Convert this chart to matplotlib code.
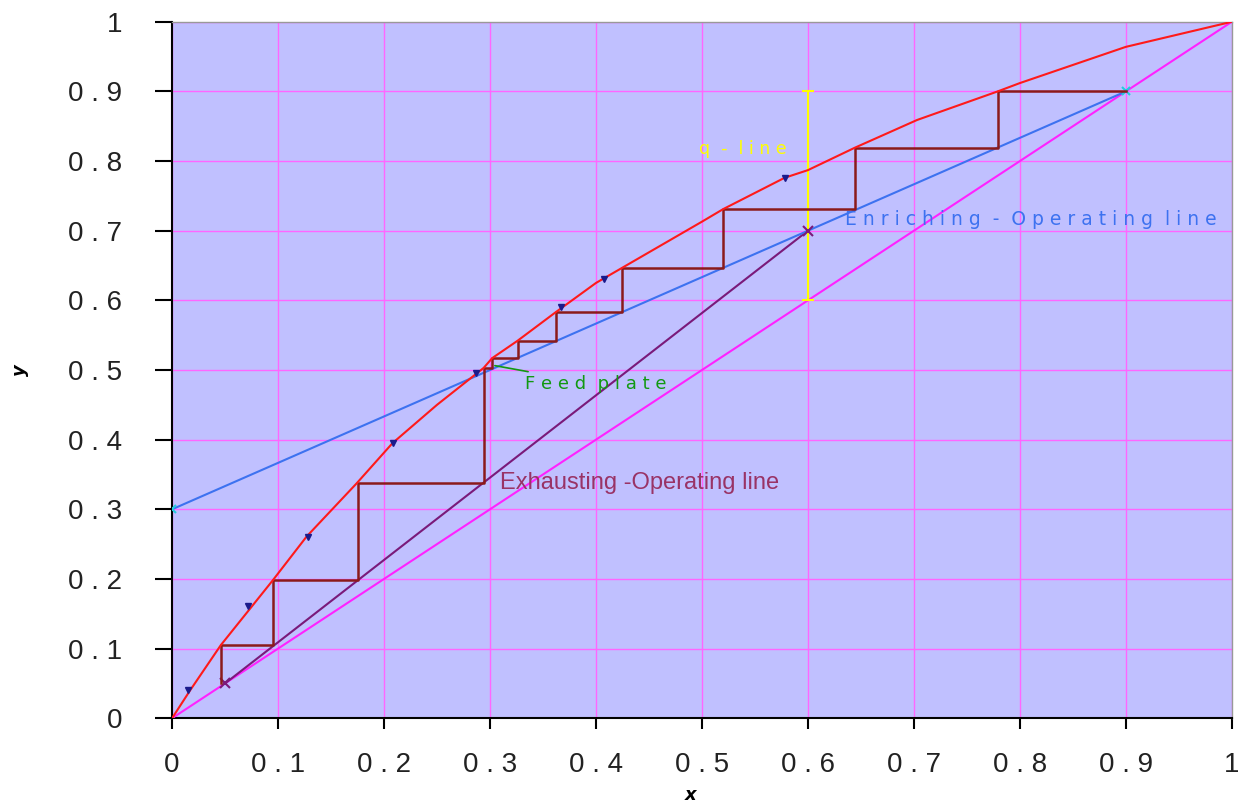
# McCabe-Thiele diagram: equilibrium curve, operating lines and stage steps
from matplotlib import pyplot as plt
import numpy as np

# equilibrium curve
eq_x = [0.0, 0.017, 0.046, 0.095, 0.127, 0.174, 0.208, 0.250, 0.294, 0.302, 0.326,
        0.362, 0.400, 0.425, 0.500, 0.520, 0.578, 0.600, 0.644, 0.703, 0.779, 0.800,
        0.900, 1.0]
eq_y = [0.0, 0.040, 0.105, 0.198, 0.261, 0.337, 0.395, 0.450, 0.503, 0.517, 0.542,
        0.583, 0.625, 0.647, 0.713, 0.731, 0.776, 0.787, 0.819, 0.859, 0.900, 0.912,
        0.964, 1.0]

# measured data points
data_x = [0.015, 0.072, 0.128, 0.208, 0.287, 0.367, 0.408, 0.578]
data_y = [0.040, 0.161, 0.260, 0.395, 0.496, 0.590, 0.630, 0.776]

# operating lines, q-line and diagonal
enrich_x = [0.0, 0.9]
enrich_y = [0.3, 0.9]
exhaust_x = [0.05, 0.6]
exhaust_y = [0.05, 0.7]
q_x = [0.6, 0.6]
q_y = [0.6, 0.9]
diag_x = [0.0, 1.0]
diag_y = [0.0, 1.0]

# stage corners on the equilibrium curve
stage_x = [0.779, 0.644, 0.520, 0.425, 0.362, 0.326, 0.302, 0.294, 0.175, 0.095, 0.046]
stage_y = [0.900, 0.819, 0.731, 0.647, 0.583, 0.542, 0.517, 0.503, 0.338, 0.198, 0.105]
bottom_y = 0.05

ticks = [0, 0.1, 0.2, 0.3, 0.4, 0.5, 0.6, 0.7, 0.8, 0.9, 1]
tick_labels = ['0', '0 . 1', '0 . 2', '0 . 3', '0 . 4', '0 . 5', '0 . 6', '0 . 7', '0 . 8', '0 . 9', '1']

fig = plt.figure(figsize=(12.38, 8.07), dpi=100)
ax = fig.add_axes([0.139, 0.110, 0.856, 0.863])
ax.set_facecolor('#c0c0ff')

# staircase path
sx = [0.9]
sy = [0.9]
for i in range(len(stage_x)):
    sx.append(stage_x[i])
    sy.append(stage_y[i])
    nxt = stage_y[i + 1] if i + 1 < len(stage_y) else bottom_y
    sx.append(stage_x[i])
    sy.append(nxt)

ax.plot(diag_x, diag_y, color='#ff22ff', lw=1.5, zorder=3)
ax.plot(exhaust_x, exhaust_y, color='#7a1a7a', lw=1.5, zorder=3)
ax.plot(exhaust_x, exhaust_y, 'x', color='#7a1a7a', ms=7, mew=1.5, zorder=4)
ax.plot(enrich_x, enrich_y, color='#3d72f0', lw=1.5, zorder=3)
ax.plot(enrich_x, enrich_y, 'x', color='#22ccdd', ms=6, mew=1.5, zorder=4)
ax.plot(q_x, q_y, color='#ffff00', lw=1.5, zorder=3)
ax.plot(q_x, q_y, '_', color='#ffff00', ms=8, mew=1.5, zorder=4)
ax.plot(sx, sy, color='#8b1a1a', lw=1.8, zorder=4)
ax.plot(eq_x, eq_y, color='#ff1a1a', lw=1.5, zorder=5)
ax.plot(data_x, data_y, 'v', color='#1a1a8c', ms=4, zorder=6)

ax.set_xlim(0, 1)
ax.set_ylim(0, 1)
ax.set_xticks(ticks)
ax.set_yticks(ticks)
ax.set_xticklabels(tick_labels, fontsize=20, family='Liberation Sans', color='#222222')
ax.set_yticklabels(tick_labels, fontsize=20, family='Liberation Sans', color='#222222')
ax.tick_params(axis='y', length=12, width=1.5, pad=24)
ax.tick_params(axis='x', length=8, width=1.5, pad=16)
ax.grid(True, color='#ff66ff', lw=1)
ax.set_axisbelow(True)
for s in ['top', 'right']:
    ax.spines[s].set_color('#999999')
    ax.spines[s].set_linewidth(1)
for s in ['left', 'bottom']:
    ax.spines[s].set_linewidth(1.5)

ax.set_xlabel('x', fontsize=13, fontweight='bold', fontstyle='italic')
ax.set_ylabel('y', fontsize=13, fontweight='bold', fontstyle='italic')
ax.xaxis.set_label_coords(0.489, -0.098)
ax.yaxis.set_label_coords(-0.135, 0.5)

ax.text(0.497, 0.818, 'q  -  l i n e', color='#ffff00', fontsize=12.5, va='center')
ax.text(0.635, 0.716, 'E n r i c h i n g  -  O p e r a t i n g  l i n e', color='#3d72f0',
        fontsize=13.5, va='center')
ax.text(0.309, 0.338, 'Exhausting -Operating line', color='#993366', fontsize=17,
        family='Liberation Sans', va='center')
ax.annotate('F e e d  p l a t e', xy=(0.302, 0.507), xytext=(0.333, 0.48), color='#119911',
            fontsize=13, va='center',
            arrowprops=dict(arrowstyle='-', color='#119911', lw=1.2))

plt.savefig('out.png', dpi=100)
